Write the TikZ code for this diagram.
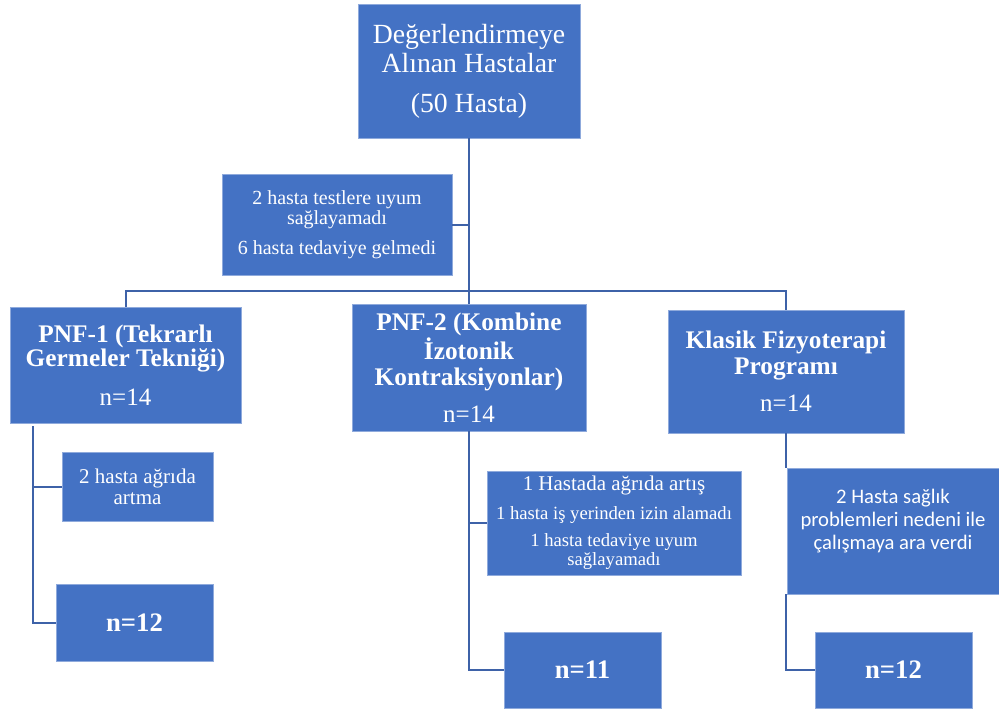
\documentclass[tikz,border=0pt]{standalone}
\usepackage{fontspec}
\setmainfont{Liberation Serif}
\newfontfamily\calibri{Carlito}
\usepackage{tikz}
\usetikzlibrary{calc}
\definecolor{boxblue}{RGB}{68,114,196}
\definecolor{boxedge}{RGB}{143,170,220}
\definecolor{linkblue}{RGB}{62,98,168}
\tikzset{
	box/.style={fill=boxblue, draw=boxedge, line width=0.6pt, text=white, align=center, inner sep=0pt, outer sep=0pt, anchor=north west},
	wh/.style 2 args={minimum width=#1*0.75pt, minimum height=#2*0.75pt},
	head/.style={font=\bfseries\fontsize{19}{#1}\selectfont},
	count/.style={font=\bfseries\fontsize{20}{20}\selectfont},
	link/.style={draw=linkblue, line width=1.5pt},
}

\begin{document}
\begin{tikzpicture}[x=0.75pt, y=-0.75pt]
	\useasboundingbox (0,0) rectangle (999,708);
	\node[box, wh={222}{134}, font=\fontsize{20.8}{21.75}\selectfont] (top) at (358,4) {Değerlendirmeye\\Alınan Hastalar\\[8.25pt](50 Hasta)};
	\node[box, wh={230}{101}, font=\fontsize{15}{15}\selectfont] (side) at (222,174) {2 hasta testlere uyum\\sağlayamadı\\[7.5pt]6 hasta tedaviye gelmedi};
	\node[box, wh={231}{116}, head=17.25pt] (pnf1) at (10,307) {PNF-1 (Tekrarlı\\Germeler Tekniği)\\[11.75pt]{\mdseries\fontsize{18.75}{18.75}\selectfont n=14}};
	\node[box, wh={234}{127}, head=19.5pt] (pnf2) at (352,304) {PNF-2 (Kombine\\İzotonik\\Kontraksiyonlar)\\[8.25pt]{\mdseries\fontsize{18.75}{18.75}\selectfont n=14}};
	\node[box, wh={236}{123}, head=19.5pt] (klasik) at (668,310) {Klasik Fizyoterapi\\Programı\\[8.25pt]{\mdseries\fontsize{18.75}{18.75}\selectfont n=14}};
	\node[box, wh={151}{69}, font=\fontsize{15.75}{15.75}\selectfont] (p1loss) at (62,452) {2 hasta ağrıda\\artma};
	\node[box, wh={157}{77}, count] (p1end) at (56,584) {n=12};
	\node[box, wh={254}{104}, font=\fontsize{14}{14.25}\selectfont] (p2loss) at (487,471) {{\fontsize{15.75}{14.25}\selectfont 1 Hastada ağrıda artış}\\[7.5pt]1 hasta iş yerinden izin alamadı\\[6pt]1 hasta tedaviye uyum\\sağlayamadı};
	\node[box, wh={157}{76}, count] (p2end) at (504,632) {n=11};
	\node[box, wh={212}{126}, font=\calibri\fontsize{15.5}{17.25}\selectfont] (p3loss) at (787,468) {2 Hasta sağlık\\problemleri nedeni ile\\çalışmaya ara verdi\\\mbox{}};
	\node[box, wh={157}{76}, count] (p3end) at (815,632) {n=12};
	\coordinate (bus) at (469,291);
	\coordinate (p1stem) at (33,426);
	\draw[link] (top.south) -- (pnf2.north);
	\draw[link] (side.east) -- (side.east -| top.south);
	\draw[link] (pnf1.north) |- (bus) -| (klasik.north);
	\draw[link] (p1stem) |- (p1loss.west);
	\draw[link] (p1stem) |- (p1end.west);
	\draw[link] (pnf2.south) |- (p2loss.west);
	\draw[link] (pnf2.south) |- (p2end.west);
	\draw[link] (klasik.south) -- (klasik.south |- p3loss.north);
	\draw[link] (klasik.south |- p3loss.south) |- (p3end.west);
\end{tikzpicture}
\end{document}
